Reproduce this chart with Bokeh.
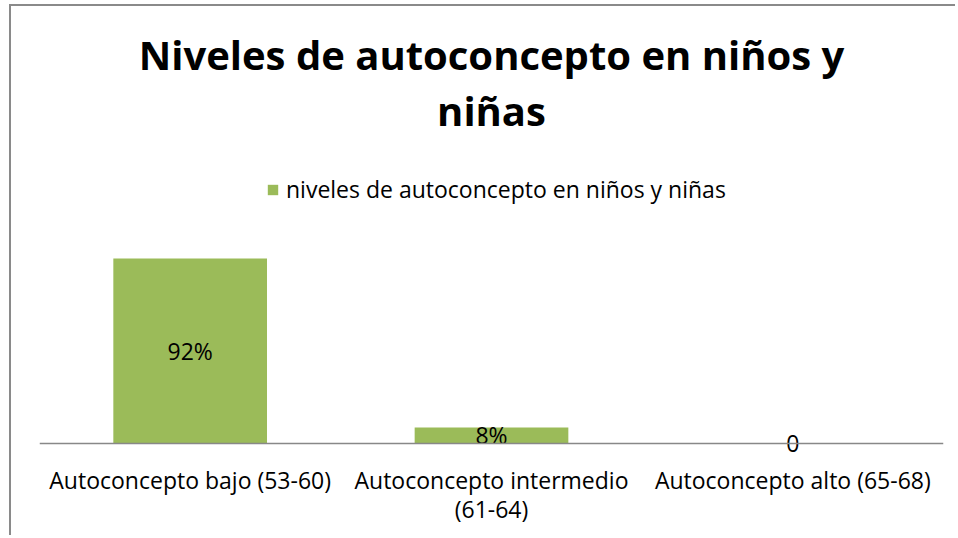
from bokeh.plotting import figure
from bokeh.models import (ColumnDataSource, Label, Legend, LegendItem, Range1d,
                          FactorRange, CategoricalAxis, Span, CustomJSTickFormatter)
from bokeh.core.properties import value
from bokeh.embed import file_html
from bokeh.resources import INLINE

# ---- data ----
categories = ["Autoconcepto bajo (53-60)", "Autoconcepto intermedio (61-64)", "Autoconcepto alto (65-68)"]
tick_labels_line1 = ["Autoconcepto bajo (53-60)", "Autoconcepto intermedio", "Autoconcepto alto (65-68)"]
tick_labels_line2 = ["", "(61-64)", ""]
values = [92, 8, 0]
value_labels = ["92%", "8%", "0"]
series_name = "niveles de autoconcepto en niños y niñas"
title_lines = ["Niveles de autoconcepto en niños y", "niñas"]

FONT = "Open Sans"
GREEN = "#9BBB59"
GRAY = "#888888"

# layout (canvas px)
W, H = 946, 531
FRAME_BOTTOM = 449          # canvas y of frame bottom
PPU = 2.011                 # px per percent
Y_LOW = 12 / PPU
Y_MAX = FRAME_BOTTOM / PPU - Y_LOW

p = figure(
    x_range=FactorRange(*categories),
    y_range=Range1d(-Y_LOW, Y_MAX),
    width=W, height=H,
    output_backend="svg", toolbar_location=None,
    y_axis_location=None,
    min_border_left=28, min_border_right=14,
    min_border_top=0, min_border_bottom=H - FRAME_BOTTOM,
)
p.styles = {"border-top": "2px solid #8a8a8a", "border-left": "2px solid #8a8a8a",
            "margin-left": "9px", "margin-top": "4px"}
p.outline_line_color = None
p.xgrid.grid_line_color = None
p.ygrid.grid_line_color = None
p.background_fill_color = "white"
p.border_fill_color = "white"

src = ColumnDataSource(dict(
    cat=categories,
    val=values,
    half=[v / 2 for v in values],
    lab=value_labels,
))

bars = p.vbar(x="cat", top="val", width=0.51, source=src,
              fill_color=GREEN, line_color=None)

# baseline (value axis zero)
p.add_layout(Span(location=0, dimension="width", line_color=GRAY, line_width=1.5))

p.text(x="cat", y="half", text="lab", source=src,
       text_font=value(FONT), text_font_size="23px", text_color="#000000",
       text_align="center", text_baseline="middle")

def style_axis(ax, standoff):
    ax.axis_line_color = None
    ax.major_tick_line_color = None
    ax.minor_tick_line_color = None
    ax.major_label_text_font = FONT
    ax.major_label_text_font_size = "23px"
    ax.major_label_text_color = "#000000"
    ax.major_label_standoff = standoff

JS = """
const i = cats.indexOf(tick);
return i >= 0 ? labels[i] : tick;
"""

ax1 = p.xaxis[0]
style_axis(ax1, 2)
ax1.formatter = CustomJSTickFormatter(args=dict(cats=categories, labels=tick_labels_line1), code=JS)

ax2 = CategoricalAxis()
style_axis(ax2, -12)
ax2.formatter = CustomJSTickFormatter(args=dict(cats=categories, labels=tick_labels_line2), code=JS)
p.add_layout(ax2, "below")

# title lines
def page_to_data(y_canvas):
    return (FRAME_BOTTOM - y_canvas) / PPU - Y_LOW

for line, base_px in zip(title_lines, [72 - 6 - 18, 127 - 6 - 17]):
    p.add_layout(Label(x=1.5, y=page_to_data(base_px), text=line,
                       text_font=FONT, text_font_size="40px", text_font_style="bold",
                       text_color="#000000", text_align="center", text_baseline="alphabetic"))

legend = Legend(items=[LegendItem(label=series_name, renderers=[bars])],
                location=(227, 250), orientation="horizontal",
                glyph_width=13, glyph_height=13, label_standoff=7,
                label_text_font=FONT, label_text_font_size="23px",
                label_text_color="#000000",
                padding=0, margin=0, border_line_color=None,
                background_fill_alpha=0)
p.add_layout(legend)

open("out.html", "w").write(file_html(p, INLINE))
